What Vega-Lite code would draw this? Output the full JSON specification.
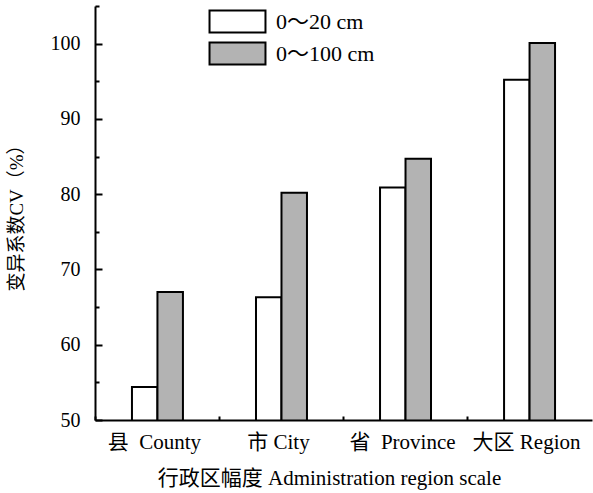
{
  "$schema": "https://vega.github.io/schema/vega-lite/v6.json",
  "width": 497,
  "height": 414,
  "autosize": {"type": "none"},
  "padding": {"left": 95, "top": 6, "right": 1, "bottom": 73},
  "config": {"view": {"stroke": null}, "font": "Liberation Serif, Noto Sans CJK SC"},
  "data": {
    "values": [
      {"scale": "县\u00a0 County", "depth": "0～20 cm", "cv": 54.4},
      {"scale": "县\u00a0 County", "depth": "0～100 cm", "cv": 67.0},
      {"scale": "市 City", "depth": "0～20 cm", "cv": 66.3},
      {"scale": "市 City", "depth": "0～100 cm", "cv": 80.2},
      {"scale": "省\u00a0 Province", "depth": "0～20 cm", "cv": 80.9},
      {"scale": "省\u00a0 Province", "depth": "0～100 cm", "cv": 84.7},
      {"scale": "大区 Region", "depth": "0～20 cm", "cv": 95.2},
      {"scale": "大区 Region", "depth": "0～100 cm", "cv": 100.1}
    ]
  },
  "layer": [
    {
      "mark": {"type": "bar", "stroke": "black", "strokeWidth": 2, "clip": true},
      "encoding": {
        "x": {
          "field": "scale", "type": "nominal", "sort": null,
          "scale": {"paddingInner": 0.589, "paddingOuter": 0.298},
          "axis": {
            "title": "行政区幅度 Administration region scale",
            "ticks": true,
            "zindex": 1,
            "bandPosition": -0.725,
            "tickSize": -4,
            "tickColor": "black",
            "tickWidth": 2,
            "domainColor": "black",
            "domainWidth": 2,
            "labelAngle": 0,
            "labelOffset": -3,
            "labelFontSize": 21,
            "labelColor": "black",
            "labelPadding": 15,
            "titleFontSize": 21,
            "titleColor": "black",
            "titleFontWeight": "normal",
            "titleX": 234,
            "titleAlign": "center",
            "titlePadding": 15
          }
        },
        "xOffset": {"field": "depth", "sort": null, "scale": {"paddingInner": 0, "paddingOuter": 0}},
        "y": {
          "field": "cv", "type": "quantitative",
          "scale": {"domain": [50, 105], "nice": false, "zero": false},
          "axis": {
            "title": "变异系数CV（%）",
            "ticks": true,
            "zindex": 1,
            "values": [50, 60, 70, 80, 90, 100],
            "tickSize": -7,
            "tickColor": "black",
            "tickWidth": 2,
            "domainColor": "black",
            "domainWidth": 2,
            "grid": false,
            "labelFontSize": 20,
            "labelColor": "black",
            "labelPadding": 22,
            "titleFontSize": 19,
            "titleColor": "black",
            "titleFontWeight": "normal",
            "titlePadding": 24
          }
        },
        "color": {
          "field": "depth", "type": "nominal", "sort": null,
          "scale": {"range": ["white", "#b3b3b3"]},
          "legend": {
            "title": null,
            "orient": "none",
            "legendX": 130,
            "legendY": 3,
            "symbolType": "M-2.5,-0.98H2.5V0.98H-2.5Z",
            "symbolSize": 501,
            "symbolStrokeColor": "black",
            "symbolStrokeWidth": 2,
            "symbolOpacity": 1,
            "labelFontSize": 22,
            "labelColor": "black",
            "labelOffset": 26,
            "rowPadding": 1
          }
        }
      }
    },
    {
      "mark": {"type": "point", "opacity": 0},
      "encoding": {
        "y": {
          "field": "cv", "type": "quantitative",
          "scale": {"domain": [50, 105], "nice": false, "zero": false},
          "axis": {
            "orient": "left",
            "title": null,
            "labels": false,
            "domain": false,
            "grid": false,
            "ticks": true,
            "zindex": 1,
            "values": [55, 65, 75, 85, 95, 105],
            "tickSize": -4,
            "tickColor": "black",
            "tickWidth": 2
          }
        }
      }
    }
  ],
  "resolve": {"axis": {"y": "independent"}}
}
